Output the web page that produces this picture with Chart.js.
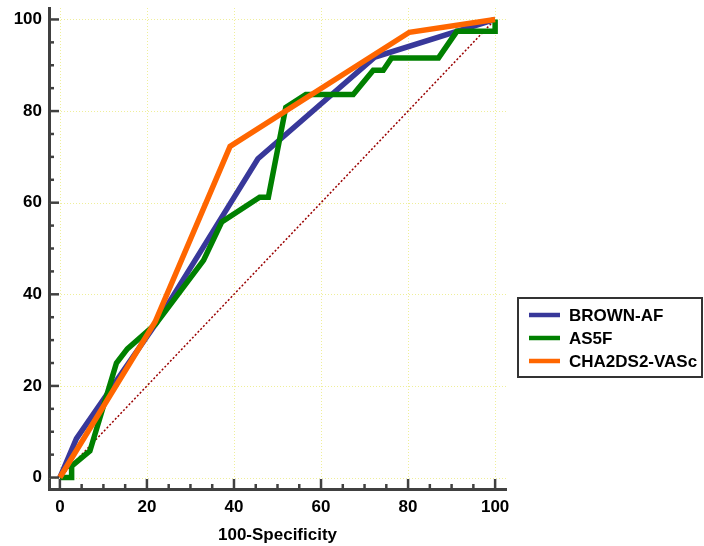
<!DOCTYPE html>
<html>
<head>
<meta charset="utf-8">
<script src="https://cdn.jsdelivr.net/npm/chart.js@4/dist/chart.umd.min.js"></script>
<style>
html,body{margin:0;padding:0;background:#fff;}
#wrap{width:704px;height:546px;position:relative;}
</style>
</head>
<body>
<div id="wrap"><canvas id="c" width="704" height="546"></canvas></div>
<script>
// ---- data ----
const seriesLabels = ['BROWN-AF', 'AS5F', 'CHA2DS2-VASc'];
const brownX = [0, 3.8, 22, 45.5, 72.4, 100];
const brownY = [0, 8.5, 33.5, 69.6, 91.8, 100];
const as5fX = [0, 2.7, 2.7, 6.9, 13.0, 15.5, 22, 33.0, 37.2, 45.9, 47.9, 51.9, 56.5, 67.4, 72.0, 74.3, 76.2, 87.0, 91.2, 100, 100];
const as5fY = [0, 0, 2.5, 5.8, 25.0, 28.1, 33.5, 47.4, 55.8, 61.2, 61.2, 80.8, 83.6, 83.6, 88.9, 88.9, 91.6, 91.6, 97.4, 97.4, 100];
const chaX = [0, 21.9, 39.1, 80.3, 100];
const chaY = [0, 34.0, 72.3, 97.2, 100];
const refX = [0, 100];
const refY = [0, 100];
const majorTicks = [0, 20, 40, 60, 80, 100];
const minorTicks = [5, 10, 15, 25, 30, 35, 45, 50, 55, 65, 70, 75, 85, 90, 95];
const xTitle = '100-Specificity';

const colors = ['#38389a', '#008000', '#ff6600'];
const FONT = '"Liberation Sans", Arial, sans-serif';

function pts(xs, ys) { return xs.map((x, i) => ({x: x, y: ys[i]})); }

const gridPlugin = {
  id: 'gridPlugin',
  beforeDatasetsDraw(chart) {
    const {ctx, chartArea: a, scales: {x, y}} = chart;
    ctx.save();
    ctx.strokeStyle = '#efef9a';
    ctx.lineWidth = 1;
    ctx.setLineDash([1, 2]);
    majorTicks.forEach(v => {
      const px = Math.round(x.getPixelForValue(v)) + 0.5;
      ctx.beginPath(); ctx.moveTo(px, a.top); ctx.lineTo(px, a.bottom); ctx.stroke();
      const py = Math.round(y.getPixelForValue(v)) + 0.5;
      ctx.beginPath(); ctx.moveTo(a.left, py); ctx.lineTo(a.right, py); ctx.stroke();
    });
    ctx.restore();
  },
  afterDraw(chart) {
    const {ctx, chartArea: a, scales: {x, y}} = chart;
    ctx.save();
    ctx.strokeStyle = '#404040';
    ctx.lineWidth = 2.5;
    const draw = (v, len) => {
      const px = x.getPixelForValue(v);
      ctx.beginPath(); ctx.moveTo(px, a.bottom); ctx.lineTo(px, a.bottom - len); ctx.stroke();
      const py = y.getPixelForValue(v);
      ctx.beginPath(); ctx.moveTo(a.left, py); ctx.lineTo(a.left + len, py); ctx.stroke();
    };
    majorTicks.forEach(v => draw(v, 10));
    minorTicks.forEach(v => draw(v, 5));
    ctx.restore();

    // legend box
    const lx = 518, ly = 298, lw = 184, lh = 79;
    ctx.save();
    ctx.fillStyle = '#fff';
    ctx.fillRect(lx, ly, lw, lh);
    ctx.strokeStyle = '#333';
    ctx.lineWidth = 2;
    ctx.strokeRect(lx, ly, lw, lh);
    ctx.font = 'bold 17px ' + FONT;
    ctx.textBaseline = 'middle';
    ctx.fillStyle = '#000';
    chart.data.datasets.slice(0, 3).forEach((ds, i) => {
      const cy = ly + 17 + i * 23;
      ctx.strokeStyle = ds.borderColor;
      ctx.lineWidth = 4.5;
      ctx.beginPath(); ctx.moveTo(529, cy); ctx.lineTo(560, cy); ctx.stroke();
      ctx.fillText(ds.label, 569, cy + 1);
    });
    ctx.restore();
  }
};

new Chart(document.getElementById('c'), {
  type: 'line',
  data: {
    datasets: [
      {label: seriesLabels[0], data: pts(brownX, brownY), borderColor: colors[0], borderWidth: 5.5, order: 3},
      {label: seriesLabels[1], data: pts(as5fX, as5fY), borderColor: colors[1], borderWidth: 5.5, order: 2},
      {label: seriesLabels[2], data: pts(chaX, chaY), borderColor: colors[2], borderWidth: 5.5, order: 1},
      {label: 'ref', data: pts(refX, refY), borderColor: '#9a0000', borderWidth: 1.5, borderDash: [2, 2], order: 4}
    ]
  },
  options: {
    responsive: false,
    animation: false,
    events: [],
    elements: {point: {radius: 0}, line: {tension: 0, fill: false}},
    layout: {padding: {top: 8, right: 198, left: 0, bottom: 0}},
    plugins: {legend: {display: false}, tooltip: {enabled: false}},
    scales: {
      x: {
        type: 'linear', min: -2.5, max: 102.5,
        grid: {display: false, drawTicks: false},
        border: {display: true, color: '#404040', width: 3},
        afterBuildTicks: s => { s.ticks = majorTicks.map(v => ({value: v})); },
        afterFit: s => { s.height = 57; s.paddingLeft = 0; s.paddingRight = 0; },
        ticks: {color: '#000', font: {family: FONT, size: 17, weight: 'bold'}, padding: 8, maxRotation: 0, autoSkip: false},
        title: {display: true, text: xTitle, color: '#000', font: {family: FONT, size: 17, weight: 'bold'}, padding: {top: 0, bottom: 0}}
      },
      y: {
        type: 'linear', min: -2.5, max: 102.5,
        grid: {display: false, drawTicks: false},
        border: {display: true, color: '#404040', width: 3},
        afterBuildTicks: s => { s.ticks = majorTicks.map(v => ({value: v})); },
        afterFit: s => { s.width = 49; s.paddingTop = 0; s.paddingBottom = 0; },
        ticks: {color: '#000', font: {family: FONT, size: 17, weight: 'bold'}, padding: 7, autoSkip: false}
      }
    }
  },
  plugins: [gridPlugin]
});
</script>
</body>
</html>
